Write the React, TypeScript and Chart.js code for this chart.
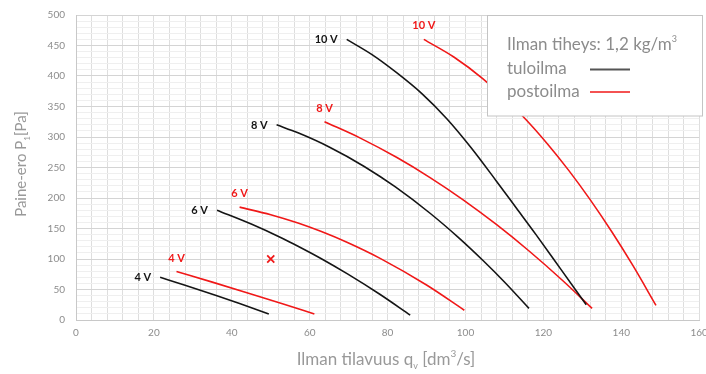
import React, { useEffect, useRef } from "react";
import { Chart, registerables } from "chart.js";

Chart.register(...registerables);

// ---- Data (x = air flow dm3/s, y = pressure Pa) ----
const tulo4X = [21.6, 28, 35.8, 42, 49.5];
const tulo4Y = [70, 57.1, 40.6, 27, 10];
const tulo6X = [36.2, 45, 52.8, 57, 63, 69.7, 78, 85.8];
const tulo6Y = [180, 157.3, 134.5, 121, 100.5, 75.6, 42.2, 8];
const tulo8X = [51.5, 57, 65, 74, 82, 90.9, 98, 104.5, 110, 116.3];
const tulo8Y = [320, 306.8, 283.6, 251.7, 218.1, 175, 136.3, 97.5, 62.3, 19];
const tulo10X = [69.5, 76, 82.4, 89, 95.2, 101.5, 107.9, 113, 118.1, 124.5, 131];
const tulo10Y = [460, 435, 405, 370, 330, 282, 228, 184, 140, 83, 25];

const posto4X = [25.8, 35, 44.3, 53, 61.2];
const posto4Y = [79.5, 62.1, 44, 26.7, 10];
const posto6X = [42, 50, 57, 63, 69.7, 78.2, 90, 99.7];
const posto6Y = [185, 172.6, 158.9, 144.9, 127, 100.6, 57.3, 16];
const posto8X = [63.8, 73, 82.4, 91, 99.4, 108, 116.4, 125, 132.5];
const posto8Y = [325, 298.2, 266.3, 233.1, 197, 156.2, 112.7, 64.3, 19];
const posto10X = [89.3, 97, 104.5, 114.7, 121, 126.5, 132, 137.6, 143, 148.9];
const posto10Y = [460, 431.2, 395.3, 334, 289, 245.3, 197.3, 144.2, 89, 24];

const voltLabels = ["4 V", "6 V", "8 V", "10 V"];
const markerX = [50];
const markerY = [100];

const xTitleParts = ["Ilman tilavuus q", "v", " [dm", "3", "/s]"];
const yTitleParts = ["Paine-ero P", "1", "[Pa]"];
const legendTitle = ["Ilman tiheys: 1,2 kg/m", "3"];
const legendNames = ["tuloilma", "postoilma"];

const BLACK = "#151515";
const RED = "#f01818";
const FONT = "Lato, 'Open Sans', 'DejaVu Sans', sans-serif";
const TEXT_GRAY = "#8c8c8c";

const zip = (xs: number[], ys: number[]) => xs.map((x, i) => ({ x, y: ys[i] }));

type Part = { t: string; size: number; dy: number };

function drawRich(ctx: CanvasRenderingContext2D, parts: Part[], x: number, y: number, align: "left" | "center") {
  let total = 0;
  const widths = parts.map((p) => {
    ctx.font = `${p.size}px ${FONT}`;
    const w = ctx.measureText(p.t).width;
    total += w;
    return w;
  });
  let cx = align === "center" ? x - total / 2 : x;
  ctx.textAlign = "left";
  ctx.textBaseline = "alphabetic";
  parts.forEach((p, i) => {
    ctx.font = `${p.size}px ${FONT}`;
    ctx.fillText(p.t, cx, y + p.dy);
    cx += widths[i];
  });
}

const decorPlugin = {
  id: "decor",
  afterDatasetsDraw(chart: any) {
    const ctx: CanvasRenderingContext2D = chart.ctx;
    const xs = chart.scales.x;
    const ys = chart.scales.y;
    ctx.save();
    ctx.font = `bold 11px ${FONT}`;
    ctx.textBaseline = "middle";
    const tuloStarts = [
      [tulo4X[0], tulo4Y[0]],
      [tulo6X[0], tulo6Y[0]],
      [tulo8X[0], tulo8Y[0]],
      [tulo10X[0], tulo10Y[0]],
    ];
    const postoStarts = [
      [posto4X[0], posto4Y[0]],
      [posto6X[0], posto6Y[0]],
      [posto8X[0], posto8Y[0]],
      [posto10X[0], posto10Y[0]],
    ];
    ctx.fillStyle = BLACK;
    ctx.textAlign = "right";
    tuloStarts.forEach(([x, y], i) => {
      ctx.fillText(voltLabels[i], xs.getPixelForValue(x) - 9, ys.getPixelForValue(y) + 0.5);
    });
    ctx.fillStyle = RED;
    ctx.textAlign = "center";
    postoStarts.forEach(([x, y], i) => {
      ctx.fillText(voltLabels[i], xs.getPixelForValue(x), ys.getPixelForValue(y) - 13.5);
    });
    ctx.restore();
  },
  afterDraw(chart: any) {
    const ctx: CanvasRenderingContext2D = chart.ctx;
    ctx.save();
    // axis titles
    ctx.fillStyle = "#999999";
    drawRich(
      ctx,
      [
        { t: xTitleParts[0], size: 17, dy: 0 },
        { t: xTitleParts[1], size: 9, dy: 4 },
        { t: xTitleParts[2], size: 17, dy: 0 },
        { t: xTitleParts[3], size: 10, dy: -8 },
        { t: xTitleParts[4], size: 17, dy: 0 },
      ],
      386,
      365,
      "center"
    );
    ctx.save();
    ctx.translate(26, 164);
    ctx.rotate(-Math.PI / 2);
    drawRich(
      ctx,
      [
        { t: yTitleParts[0], size: 15, dy: 0 },
        { t: yTitleParts[1], size: 8, dy: 4 },
        { t: yTitleParts[2], size: 15, dy: 0 },
      ],
      0,
      0,
      "center"
    );
    ctx.restore();

    // legend box
    ctx.fillStyle = "#ffffff";
    ctx.fillRect(487.5, 15.5, 215, 100.5);
    ctx.strokeStyle = "#c4c4c4";
    ctx.lineWidth = 1;
    ctx.strokeRect(487.5, 15.5, 215, 100.5);
    ctx.fillStyle = TEXT_GRAY;
    drawRich(
      ctx,
      [
        { t: legendTitle[0], size: 17, dy: 0 },
        { t: legendTitle[1], size: 9, dy: -8 },
      ],
      507,
      50,
      "left"
    );
    ctx.font = `17px ${FONT}`;
    ctx.textAlign = "left";
    ctx.fillText(legendNames[0], 507, 74);
    ctx.fillText(legendNames[1], 507, 97);
    ctx.lineWidth = 1.8;
    ctx.strokeStyle = "#555555";
    ctx.beginPath();
    ctx.moveTo(590, 69.5);
    ctx.lineTo(630, 69.5);
    ctx.stroke();
    ctx.lineWidth = 1.3;
    ctx.strokeStyle = RED;
    ctx.beginPath();
    ctx.moveTo(590, 92);
    ctx.lineTo(630, 92);
    ctx.stroke();
    ctx.restore();
  },
};

export default function App() {
  const ref = useRef<HTMLCanvasElement | null>(null);
  useEffect(() => {
    document.body.style.margin = "0";
    if (!ref.current) return;
    const lineDs = (xs: number[], ys: number[], color: string) => ({
      type: "line" as const,
      data: zip(xs, ys),
      borderColor: color,
      backgroundColor: color,
      borderWidth: 1.6,
      pointRadius: 0,
      cubicInterpolationMode: "monotone" as const,
      fill: false,
    });
    const chart = new Chart(ref.current, {
      type: "line",
      data: {
        datasets: [
          lineDs(tulo4X, tulo4Y, BLACK),
          lineDs(tulo6X, tulo6Y, BLACK),
          lineDs(tulo8X, tulo8Y, BLACK),
          lineDs(tulo10X, tulo10Y, BLACK),
          lineDs(posto4X, posto4Y, RED),
          lineDs(posto6X, posto6Y, RED),
          lineDs(posto8X, posto8Y, RED),
          lineDs(posto10X, posto10Y, RED),
          {
            type: "scatter" as const,
            data: zip(markerX, markerY),
            borderColor: RED,
            backgroundColor: RED,
            pointStyle: "crossRot",
            pointRadius: 5,
            borderWidth: 1.8,
            showLine: false,
          } as any,
        ],
      },
      options: {
        animation: false,
        responsive: false,
        devicePixelRatio: 1,
        layout: { padding: { top: 15, right: 2, left: 0, bottom: 0 } },
        plugins: { legend: { display: false }, tooltip: { enabled: false }, title: { display: false } },
        scales: {
          x: {
            type: "linear",
            min: 0,
            max: 160,
            afterFit: (s: any) => {
              s.height = 54;
              s.paddingLeft = 0;
              s.paddingRight = 0;
            },
            ticks: {
              stepSize: 4,
              autoSkip: false,
              maxRotation: 0,
              padding: 7,
              color: TEXT_GRAY,
              font: { family: FONT, size: 10 },
              callback: (v: any) => (Number(v) % 20 === 0 ? String(v) : ""),
            },
            grid: { color: "#dedede", drawTicks: false, lineWidth: 1 },
            border: { color: "#c8c8c8" },
          },
          y: {
            type: "linear",
            min: 0,
            max: 500,
            afterFit: (s: any) => {
              s.width = 76;
              s.paddingTop = 0;
              s.paddingBottom = 0;
            },
            ticks: {
              stepSize: 10,
              autoSkip: false,
              padding: 11,
              color: TEXT_GRAY,
              font: { family: FONT, size: 10 },
              callback: (v: any) => (Number(v) % 50 === 0 ? String(v) : ""),
            },
            grid: {
              drawTicks: false,
              color: (c: any) => (c.tick && c.tick.value % 50 === 0 ? "#d4d4d4" : "#efefef"),
            },
            border: { color: "#c8c8c8" },
          },
        },
      },
      plugins: [decorPlugin],
    } as any);
    return () => chart.destroy();
  }, []);
  return (
    <div style={{ position: "absolute", left: 0, top: 0, width: 706, height: 374, overflow: "hidden", background: "#fff" }}>
      <canvas ref={ref} width={706} height={374} style={{ display: "block" }} />
    </div>
  );
}
